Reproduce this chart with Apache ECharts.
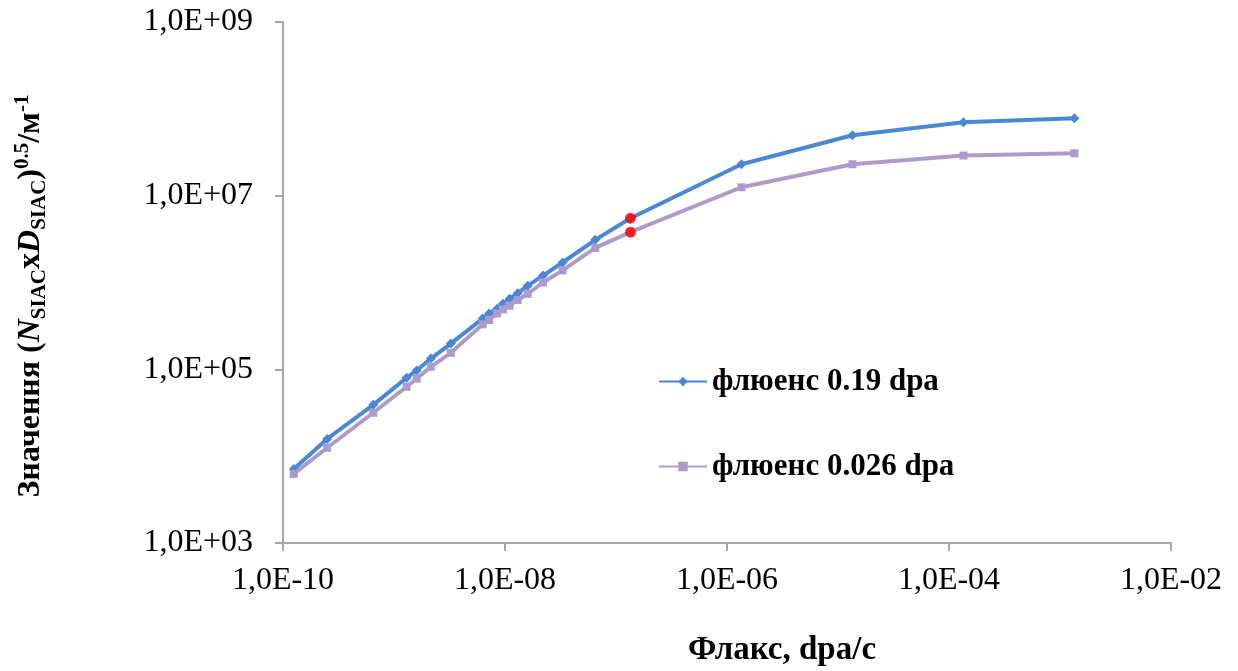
<!DOCTYPE html>
<html>
<head>
<meta charset="utf-8">
<script src="https://cdn.jsdelivr.net/npm/echarts@6/dist/echarts.min.js"></script>
<style>
html,body{margin:0;padding:0;background:#fff;}
#chart{width:1238px;height:671px;}
</style>
</head>
<body>
<div id="chart"></div>
<script>
// ---- data ----
const xValues = [1.25e-10, 2.5e-10, 6.5e-10, 1.3e-9, 1.6e-9, 2.15e-9, 3.25e-9, 6.3e-9, 7.2e-9, 8.5e-9, 9.6e-9,
                 1.1e-8, 1.3e-8, 1.6e-8, 2.2e-8, 3.3e-8, 6.5e-8, 1.35e-7, 1.35e-6, 1.35e-5, 1.35e-4, 1.35e-3];
const fluence019 = [7.1e3, 1.58e4, 3.9e4, 8.0e4, 9.7e4, 1.33e5, 1.98e5, 3.85e5, 4.4e5, 5.0e5, 5.7e5,
                    6.5e5, 7.5e5, 9.2e5, 1.2e6, 1.7e6, 3.1e6, 5.5e6, 2.3e7, 4.97e7, 7.0e7, 7.8e7];
const fluence0026 = [6.25e3, 1.25e4, 3.16e4, 6.3e4, 7.8e4, 1.07e5, 1.55e5, 3.3e5, 3.7e5, 4.4e5, 4.9e5,
                     5.4e5, 6.3e5, 7.4e5, 1.0e6, 1.38e6, 2.5e6, 3.8e6, 1.25e7, 2.3e7, 2.9e7, 3.08e7];
const seriesNames = ['флюенс 0.19 dpa', 'флюенс 0.026 dpa'];
const highlightIndex = 17;
const xTickValues = [1e-10, 1e-8, 1e-6, 1e-4, 1e-2];
const xTickLabels = ['1,0E-10', '1,0E-08', '1,0E-06', '1,0E-04', '1,0E-02'];
const yTickValues = [1e3, 1e5, 1e7, 1e9];
const yTickLabels = ['1,0E+03', '1,0E+05', '1,0E+07', '1,0E+09'];
const xTitle = 'Флакс, dpa/с';

function labelFor(values, labels) {
  return function (v) {
    const i = values.findIndex(t => Math.abs(Math.log10(t) - Math.log10(v)) < 1e-6);
    return i >= 0 ? labels[i] : '';
  };
}
const pairs = ys => xValues.map((x, i) => [x, ys[i]]);

const FONT = 'Liberation Serif';
const BLUE = '#4a88d6';
const PURPLE = '#ad9ccb';
const AXIS = '#a6a6a6';

const chart = echarts.init(document.getElementById('chart'), null, {renderer: 'canvas'});
chart.setOption({
  backgroundColor: '#fff',
  animation: false,
  grid: {left: 283, right: 67, top: 22, bottom: 128},
  xAxis: {
    type: 'log', logBase: 10, min: 1e-10, max: 1e-2,
    axisLine: {show: true, lineStyle: {color: AXIS, width: 2}},
    axisTick: {show: true, customValues: xTickValues, length: 8, lineStyle: {color: AXIS, width: 2}},
    axisLabel: {customValues: xTickValues, formatter: labelFor(xTickValues, xTickLabels),
                fontFamily: FONT, fontSize: 32, color: '#000', margin: 22},
    splitLine: {show: false},
    minorTick: {show: false}
  },
  yAxis: {
    type: 'log', logBase: 10, min: 1e3, max: 1e9,
    axisLine: {show: true, lineStyle: {color: AXIS, width: 2}},
    axisTick: {show: true, customValues: yTickValues, length: 8, lineStyle: {color: AXIS, width: 2}},
    axisLabel: {customValues: yTickValues, formatter: labelFor(yTickValues, yTickLabels),
                fontFamily: FONT, fontSize: 32, color: '#000', margin: 30},
    splitLine: {show: false}
  },
  legend: {
    orient: 'vertical', left: 653, top: 361, itemGap: 54, itemWidth: 48, itemHeight: 12,
    data: seriesNames,
    textStyle: {fontFamily: FONT, fontSize: 31, fontWeight: 'bold', color: '#000', lineHeight: 30}
  },
  series: [
    {
      name: seriesNames[0], type: 'line', data: pairs(fluence019),
      symbol: 'diamond', symbolSize: 10, showSymbol: true,
      lineStyle: {color: BLUE, width: 4}, itemStyle: {color: BLUE}, z: 2
    },
    {
      name: seriesNames[1], type: 'line', data: pairs(fluence0026),
      symbol: 'rect', symbolSize: 8, showSymbol: true,
      lineStyle: {color: PURPLE, width: 4}, itemStyle: {color: PURPLE}, z: 3
    },
    {
      name: 'highlight', type: 'scatter',
      data: [[xValues[highlightIndex], fluence019[highlightIndex]], [xValues[highlightIndex], fluence0026[highlightIndex]]],
      symbol: 'circle', symbolSize: 11, itemStyle: {color: '#ff0000'}, z: 5
    }
  ],
  graphic: [
    {
      type: 'text', x: 782, y: 650,
      style: {text: xTitle, font: 'bold 33px "Liberation Serif"', fill: '#000', align: 'center', verticalAlign: 'middle'}
    },
    {
      type: 'text', x: 31, y: 296, rotation: Math.PI / 2,
      style: {
        text: '{b|Значення (}{i|N}{s|SIAC}{b|x}{i|D}{s|SIAC}{b|)}{p|0.5}{b|/м}{p|-1}',
        align: 'center', verticalAlign: 'middle', fill: '#000',
        rich: {
          b: {fontFamily: FONT, fontWeight: 'bold', fontSize: 32, lineHeight: 38, verticalAlign: 'middle'},
          i: {fontFamily: FONT, fontWeight: 'bold', fontStyle: 'italic', fontSize: 32, lineHeight: 38, verticalAlign: 'middle'},
          s: {fontFamily: FONT, fontWeight: 'bold', fontSize: 21, lineHeight: 38, verticalAlign: 'bottom'},
          p: {fontFamily: FONT, fontWeight: 'bold', fontSize: 21, lineHeight: 38, verticalAlign: 'top'}
        }
      }
    }
  ]
});
</script>
</body>
</html>
